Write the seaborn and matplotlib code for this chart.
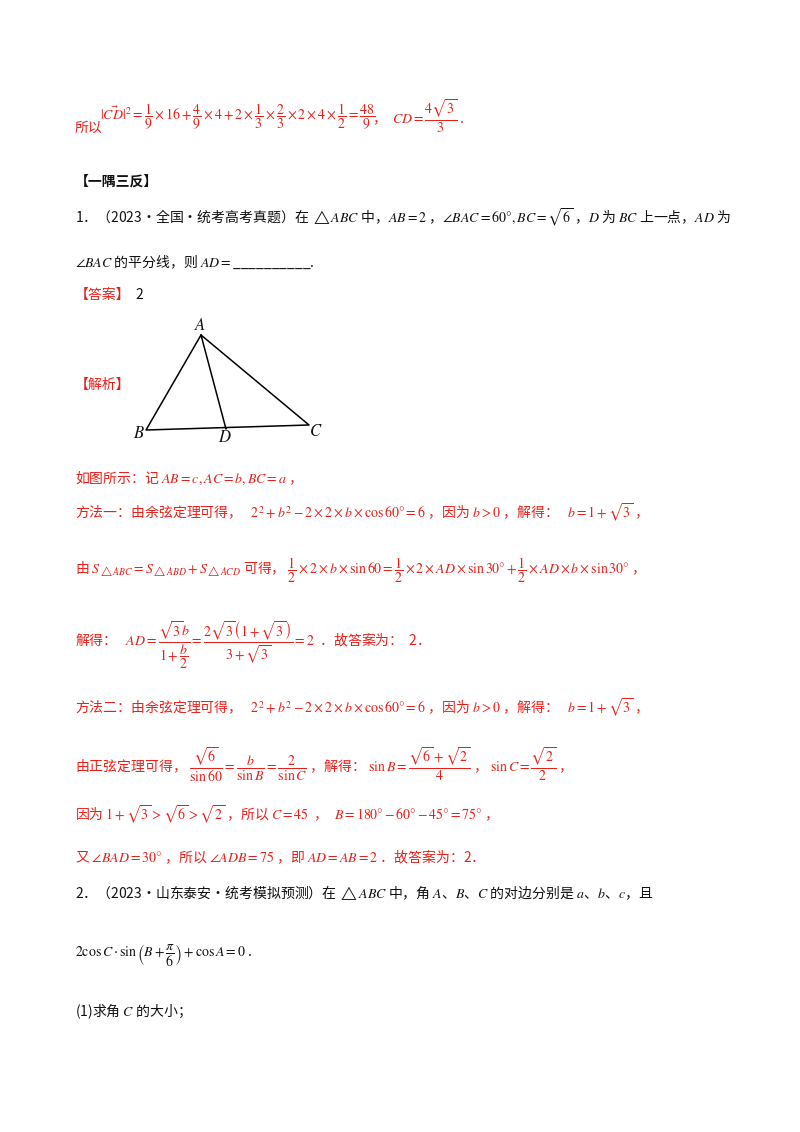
import matplotlib
matplotlib.use("Agg")
import matplotlib.pyplot as plt
import seaborn as sns
import pandas as pd

sns.set_theme(style="white")
plt.rcParams['font.family'] = ['Noto Sans CJK SC', 'DejaVu Sans']
plt.rcParams['mathtext.fontset'] = 'stix'

RED = '#e8201a'
BLK = '#111111'

# triangle vertex data (page pixel coordinates)
vert_names = ['A', 'B', 'C', 'A', 'D']
vert_x = [201, 146, 309, 201, 226]
vert_y = [335, 430, 425, 335, 429]
label_names = ['A', 'B', 'D', 'C']
label_x = [200, 139, 225, 316]
label_y = [325, 434, 437, 432]

fig = plt.figure(figsize=(8, 11.32), dpi=100)
ax = fig.add_axes([0, 0, 1, 1])

df = pd.DataFrame({'x': vert_x, 'y': vert_y})
sns.lineplot(data=df, x='x', y='y', sort=False, color='black', lw=1.1, ax=ax, estimator=None)
ax.set_xlim(0, 800); ax.set_ylim(1132, 0); ax.axis('off')
for n, x, y in zip(label_names, label_x, label_y):
    ax.text(x, y, f'${n}$', fontsize=12, ha='center', va='center', color=BLK)

fs = 10
def t(x, y, s, c=BLK, **kw):
    ax.text(x, y, s, fontsize=kw.pop('fs', fs), color=c, va='center', ha='left', **kw)

t(75, 128, '所以', RED)
t(100, 116, r'$|\vec{CD}|^2=\dfrac{1}{9}\times16+\dfrac{4}{9}\times4+2\times\dfrac{1}{3}\times\dfrac{2}{3}\times2\times4\times\dfrac{1}{2}=\dfrac{48}{9}$', RED)
t(372, 116, r'，  $CD=\dfrac{4\sqrt{3}}{3}$ .', RED)
t(75, 182, '【一隅三反】', BLK, fontweight='bold')
t(75, 218, r'1．（2023·全国·统考高考真题）在 $\triangle ABC$ 中，$AB=2$ ，$\angle BAC=60°, BC=\sqrt{6}$ ，$D$ 为 $BC$ 上一点，$AD$ 为')
t(75, 262, r'$\angle BAC$ 的平分线，则 $AD=$__________.')
t(75, 295, '【答案】', RED)
t(135, 295, '2')
t(75, 385, '【解析】', RED)
t(75, 478, r'如图所示：记 $AB=c, AC=b, BC=a$ ，', RED)
fangfa = r'：由余弦定理可得，   $2^2+b^2-2\times2\times b\times\cos60°=6$ ，因为 $b>0$ ，解得：   $b=1+\sqrt{3}$ ，'
t(75, 513, '方法一' + fangfa, RED)
t(75, 570, r'由 $S_{\triangle ABC}=S_{\triangle ABD}+S_{\triangle ACD}$ 可得， $\dfrac{1}{2}\times2\times b\times\sin60=\dfrac{1}{2}\times2\times AD\times\sin30°+\dfrac{1}{2}\times AD\times b\times\sin30°$ ，', RED)
t(75, 645, r'解得：   $AD=\dfrac{\sqrt{3}b}{1+\dfrac{b}{2}}=\dfrac{2\sqrt{3}\left(1+\sqrt{3}\right)}{3+\sqrt{3}}=2$  ．故答案为：  2．', RED)
t(75, 708, '方法二' + fangfa, RED)
t(75, 765, r'由正弦定理可得， $\dfrac{\sqrt{6}}{\sin60}=\dfrac{b}{\sin B}=\dfrac{2}{\sin C}$ ，解得： $\sin B=\dfrac{\sqrt{6}+\sqrt{2}}{4}$ ， $\sin C=\dfrac{\sqrt{2}}{2}$ ，', RED)
t(75, 815, r'因为 $1+\sqrt{3}>\sqrt{6}>\sqrt{2}$ ，所以 $C=45$  ，  $B=180°-60°-45°=75°$ ，', RED)
t(75, 857, r'又 $\angle BAD=30°$ ，所以 $\angle ADB=75$ ，即 $AD=AB=2$ ．故答案为：2．', RED)
t(75, 893, r'2．（2023·山东泰安·统考模拟预测）在 $\triangle ABC$ 中，角 $A$、$B$、$C$ 的对边分别是 $a$、$b$、$c$，且')
t(75, 955, r'$2\cos C\cdot\sin\left(B+\dfrac{\pi}{6}\right)+\cos A=0$ .')
t(75, 1012, r'(1)求角 $C$ 的大小；')

fig.savefig('out.png', dpi=100, facecolor='white')
